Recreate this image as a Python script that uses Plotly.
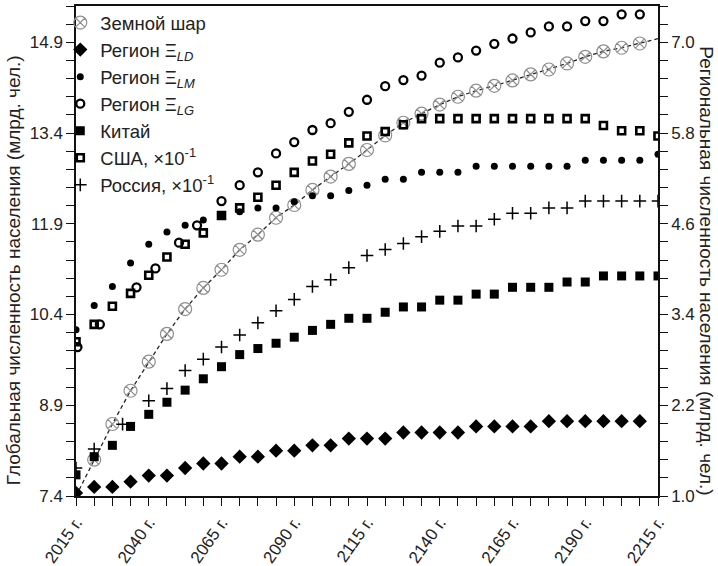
import plotly.graph_objects as go

# ---- data ----
years = [2015, 2021.25, 2027.5, 2033.75, 2040, 2046.25, 2052.5, 2058.75, 2065, 2071.25,
         2077.5, 2083.75, 2090, 2096.25, 2102.5, 2108.75, 2115, 2121.25, 2127.5, 2133.75,
         2140, 2146.25, 2152.5, 2158.75, 2165, 2171.25, 2177.5, 2183.75, 2190, 2196.25,
         2202.5, 2208.75, 2215]

earth = [7.40, 8.00, 8.59, 9.14, 9.62, 10.08, 10.49, 10.84, 11.14, 11.47, 11.72, 12.00,
         12.21, 12.46, 12.68, 12.89, 13.12, 13.36, 13.57, 13.72, 13.87, 14.00, 14.10, 14.18,
         14.27, 14.37, 14.45, 14.55, 14.66, 14.75, 14.81, 14.88, 14.96]

region_ld = [1.04, 1.12, 1.12, 1.19, 1.27, 1.27, 1.37, 1.43, 1.43, 1.52, 1.52, 1.60, 1.60,
             1.67, 1.67, 1.76, 1.76, 1.76, 1.84, 1.84, 1.84, 1.84, 1.92, 1.92, 1.92, 1.92,
             1.99, 1.99, 1.99, 1.99, 1.99, 1.99, None]

region_lm = [3.20, 3.52, 3.77, 4.08, 4.33, 4.49, 4.58, 4.65, 4.71, 4.76, 4.81, 4.81, 4.89,
             4.97, 4.97, 5.04, 5.11, 5.19, 5.19, 5.28, 5.28, 5.28, 5.36, 5.36, 5.36, 5.36,
             5.36, 5.36, 5.44, 5.44, 5.44, 5.44, 5.52]

years_lg = [2015.5, 2023.2, 2035.8, 2042.3, 2050.4, 2056.6, 2065, 2071.25, 2077.5, 2083.75,
            2090, 2096.25, 2102.5, 2108.75, 2115, 2121.25, 2127.5, 2133.75, 2140, 2146.25,
            2152.5, 2158.75, 2165, 2171.25, 2177.5, 2183.75, 2190, 2196.25, 2202.5, 2208.75]
region_lg = [2.97, 3.27, 3.76, 4.01, 4.35, 4.58, 4.90, 5.11, 5.28, 5.53, 5.68, 5.84, 5.93,
             6.08, 6.24, 6.42, 6.50, 6.56, 6.73, 6.80, 6.89, 6.98, 7.05, 7.13, 7.21, 7.21,
             7.28, 7.28, 7.37, 7.37]

china = [1.28, 1.52, 1.67, 1.92, 2.08, 2.24, 2.40, 2.55, 2.71, 2.87, 2.95, 3.02, 3.10, 3.19,
         3.27, 3.35, 3.35, 3.43, 3.50, 3.50, 3.59, 3.59, 3.67, 3.67, 3.76, 3.76, 3.76, 3.83,
         3.83, 3.91, 3.91, 3.91, 3.91]

usa = [3.04, 3.27, 3.51, 3.68, 3.92, 4.16, 4.33, 4.48, 4.71, 4.81, 4.95, 5.11, 5.28, 5.43,
       5.52, 5.67, 5.76, 5.82, 5.91, 5.99, 5.99, 5.99, 5.99, 5.99, 5.99, 5.99, 5.99, 5.99,
       5.99, 5.90, 5.83, 5.83, 5.76]

years_ru = [2015, 2021.25, 2031, 2040, 2046.25, 2052.5, 2058.75, 2065, 2071.25, 2077.5,
            2083.75, 2090, 2096.25, 2102.5, 2108.75, 2115, 2121.25, 2127.5, 2133.75, 2140,
            2146.25, 2152.5, 2158.75, 2165, 2171.25, 2177.5, 2183.75, 2190, 2196.25, 2202.5,
            2208.75, 2215]
russia = [1.37, 1.62, 1.95, 2.26, 2.42, 2.66, 2.81, 2.97, 3.13, 3.29, 3.45, 3.60, 3.77, 3.86,
          4.02, 4.18, 4.26, 4.34, 4.43, 4.50, 4.57, 4.57, 4.66, 4.74, 4.74, 4.81, 4.81, 4.90,
          4.90, 4.90, 4.90, 4.90]

x_tick_vals = [2015, 2040, 2065, 2090, 2115, 2140, 2165, 2190, 2215]
x_tick_text = ["2015 г.", "2040 г.", "2065 г.", "2090 г.", "2115 г.", "2140 г.", "2165 г.",
               "2190 г.", "2215 г."]

FONT = "Liberation Sans, Arial, sans-serif"
TXT = "#222222"

fig = go.Figure()

# dashed global curve (no legend)
fig.add_trace(go.Scatter(x=years, y=earth, mode="lines", yaxis="y",
                         line=dict(color="#222222", width=1.3, dash="4px,3px"),
                         showlegend=False, hoverinfo="skip"))
fig.add_trace(go.Scatter(x=years[1:32], y=earth[1:32], mode="markers", yaxis="y",
                         name="Земной шар", legendgroup="a",
                         marker=dict(symbol="circle-x-open", size=13, color="#8f8f8f",
                                     line=dict(width=1.2, color="#8f8f8f"))))
fig.add_trace(go.Scatter(x=years, y=region_ld, mode="markers", yaxis="y2",
                         name="Регион Ξ<sub><i>LD</i></sub>", legendgroup="b",
                         marker=dict(symbol="diamond", size=11, color="black")))
fig.add_trace(go.Scatter(x=years, y=region_lm, mode="markers", yaxis="y2",
                         name="Регион Ξ<sub><i>LM</i></sub>", legendgroup="c",
                         marker=dict(symbol="circle", size=7, color="black")))
fig.add_trace(go.Scatter(x=years_lg, y=region_lg, mode="markers", yaxis="y2",
                         name="Регион Ξ<sub><i>LG</i></sub>", legendgroup="d",
                         marker=dict(symbol="circle-open", size=8, color="black",
                                     line=dict(width=2.3, color="black"))))
fig.add_trace(go.Scatter(x=years, y=china, mode="markers", yaxis="y2",
                         name="Китай", legendgroup="e",
                         marker=dict(symbol="square", size=9, color="black")))
fig.add_trace(go.Scatter(x=years, y=usa, mode="markers", yaxis="y2",
                         name="США, ×10<sup>-1</sup>", legendgroup="f",
                         marker=dict(symbol="square-open", size=7, color="black",
                                     line=dict(width=2.6, color="black"))))
fig.add_trace(go.Scatter(x=years_ru, y=russia, mode="markers", yaxis="y2",
                         name="Россия, ×10<sup>-1</sup>", legendgroup="g",
                         marker=dict(symbol="cross-thin-open", size=9, color="black",
                                     line=dict(width=1.5, color="black"))))

axis_common = dict(showline=True, linecolor="#111111", linewidth=1.5, ticks="outside",
                   ticklen=8, tickwidth=1.3, tickcolor="#111111", showgrid=False,
                   zeroline=False)
tickfont = dict(family=FONT, size=17, color=TXT)

fig.update_layout(
    width=718, height=566,
    margin=dict(l=76, r=60, t=6, b=70, autoexpand=False),
    paper_bgcolor="white", plot_bgcolor="white",
    font=dict(family=FONT, size=17, color=TXT),
    xaxis=dict(range=[2015, 2215], tickvals=x_tick_vals, ticktext=x_tick_text,
               tickangle=-55, mirror=True, tickfont=tickfont,
               minor=dict(tick0=2015, dtick=6.25, ticks="outside", ticklen=8,
                          tickwidth=1.3, tickcolor="#111111"),
               **axis_common),
    yaxis=dict(range=[7.4, 15.5], tick0=7.4, dtick=1.5, tickformat=".1f",
               tickfont=tickfont,
               minor=dict(tick0=7.4, dtick=0.3, ticks="outside", ticklen=8,
                          tickwidth=1.3, tickcolor="#111111"),
               **axis_common),
    yaxis2=dict(range=[1.0, 7.48], tick0=1.0, dtick=1.2, tickformat=".1f",
                overlaying="y", side="right", tickfont=tickfont,
                minor=dict(tick0=1.0, dtick=0.24, ticks="outside", ticklen=8,
                           tickwidth=1.3, tickcolor="#111111"),
                **axis_common),
    legend=dict(x=-0.027, y=1.004, xanchor="left", yanchor="top",
                bgcolor="rgba(0,0,0,0)", font=dict(family=FONT, size=18.5, color=TXT),
                tracegroupgap=0, itemsizing="trace", itemwidth=30),
    annotations=[
        dict(text="Глобальная численность населения (млрд. чел.)", xref="paper",
             yref="paper", x=-0.107, y=0.46, textangle=-90, showarrow=False,
             font=dict(family=FONT, size=19, color=TXT), xanchor="center", yanchor="middle"),
        dict(text="Региональная численность населения (млрд. чел.)", xref="paper",
             yref="paper", x=1.083, y=0.46, textangle=90, showarrow=False,
             font=dict(family=FONT, size=19, color=TXT), xanchor="center", yanchor="middle"),
    ],
)

fig.write_html("out.html")
